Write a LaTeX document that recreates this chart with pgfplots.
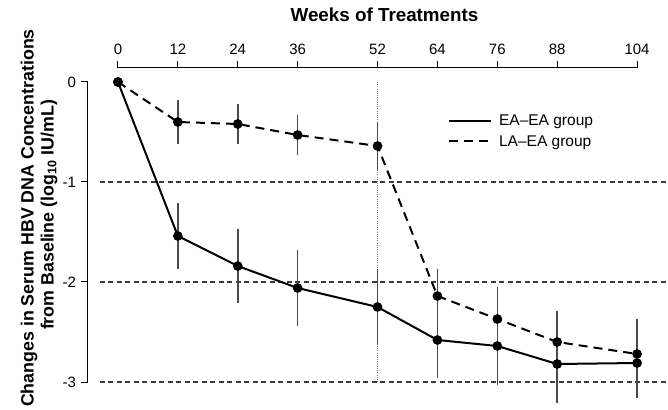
\documentclass[border=0pt]{standalone}
\usepackage{pgfplots}
\pgfplotsset{compat=1.18}
\usepackage{fontspec}
\setmainfont{Liberation Sans}
\definecolor{errgray}{HTML}{4A4A4A}
\definecolor{gridgray}{HTML}{3A3A3A}
\pgfplotstableread{
w m e
0 0 0
12 -1.54 0.33
24 -1.84 0.37
36 -2.06 0.38
52 -2.25 0.38
64 -2.58 0.38
76 -2.64 0.39
88 -2.82 0.39
104 -2.81 0.35
}\eaea
\pgfplotstableread{
w m e
0 0 0
12 -0.40 0.22
24 -0.42 0.20
36 -0.53 0.20
52 -0.64 0.24
64 -2.14 0.27
76 -2.37 0.32
88 -2.60 0.31
104 -2.72 0.35
}\laea
\begin{document}
\begin{tikzpicture}
\begin{axis}[
  name=ax,
  scale only axis,
  width=580pt, height=341pt,
  xmin=-6, xmax=110.2, ymin=-3.27, ymax=0.14,
  axis line style={draw=none},
  clip=false,
  xtick={0,12,24,36,52,64,76,88,104},
  xticklabels={0,12,24,36,52,64,76,88,104},
  xtick pos=right, xticklabel pos=right,
  ytick={0,-1,-2,-3}, yticklabels={0,-1,-2,-3},
  ytick pos=left,
  tick align=outside,
  major tick length=6.5pt,
  tick style={black, line width=1pt},
  ticklabel style={font=\fontsize{15}{18}\selectfont},
  xticklabel style={yshift=3pt},
  yticklabel style={xshift=-2pt},
  legend image code/.code={\draw[#1] (0pt,0pt) -- (42pt,0pt); \path (47pt,0pt);},
  legend style={at={(axis cs:66.1,-0.31)}, anchor=north west, draw=none, fill=none,
    font=\fontsize{15.5}{18}\selectfont, inner sep=0pt, row sep=4pt,
    nodes={inner sep=2pt}},
  legend cell align=left,
]
% axis lines
\draw[black, line width=1pt] (axis cs:0,0.14) -- (axis cs:104,0.14);
\draw[black, line width=1pt] (axis cs:-6,0) -- (axis cs:-6,-3);
% reference lines
\draw[gridgray, line width=1.1pt, dash pattern=on 5pt off 3.5pt] (axis cs:-3.6,-1) -- (axis cs:110.2,-1);
\draw[gridgray, line width=1.1pt, dash pattern=on 5pt off 3.5pt] (axis cs:-3.6,-2) -- (axis cs:110.2,-2);
\draw[gridgray, line width=1.1pt, dash pattern=on 5pt off 3.5pt] (axis cs:-3.6,-3) -- (axis cs:110.2,-3);
\draw[gray, line width=1pt, dash pattern=on 1pt off 1.2pt] (axis cs:52,0) -- (axis cs:52,-3);
% series
\addplot[black, line width=2pt, mark=*, mark size=3.8pt, mark options={solid},
  error bars/.cd, y dir=both, y explicit, error mark=none,
  error bar style={solid, line width=1.6pt, color=errgray}]
  table[x=w, y=m, y error=e] {\eaea};
\addlegendentry{EA–EA group}
\addplot[black, line width=2pt, dash pattern=on 9pt off 6pt, mark=*, mark size=3.8pt, mark options={solid},
  error bars/.cd, y dir=both, y explicit, error mark=none,
  error bar style={solid, line width=1.6pt, color=errgray}]
  table[x=w, y=m, y error=e] {\laea};
\addlegendentry{LA–EA group}
% title and y label
\node[anchor=base, font=\bfseries\fontsize{18.8}{22}\selectfont] at (axis cs:53.4,0.60) {Weeks of Treatments};
\node[rotate=90, font=\bfseries\fontsize{17.8}{22}\selectfont] at (axis cs:-17.8,-1.36) {Changes in Serum HBV DNA Concentrations};
\node[rotate=90, font=\bfseries\fontsize{17.8}{22}\selectfont] at (axis cs:-13.8,-1.33) {from Baseline (log\textsubscript{10} IU/mL)};
\end{axis}
\pgfresetboundingbox
\path[use as bounding box] ([xshift=-88pt]ax.south west) rectangle ([yshift=68pt]ax.north east);
\end{tikzpicture}
\end{document}
